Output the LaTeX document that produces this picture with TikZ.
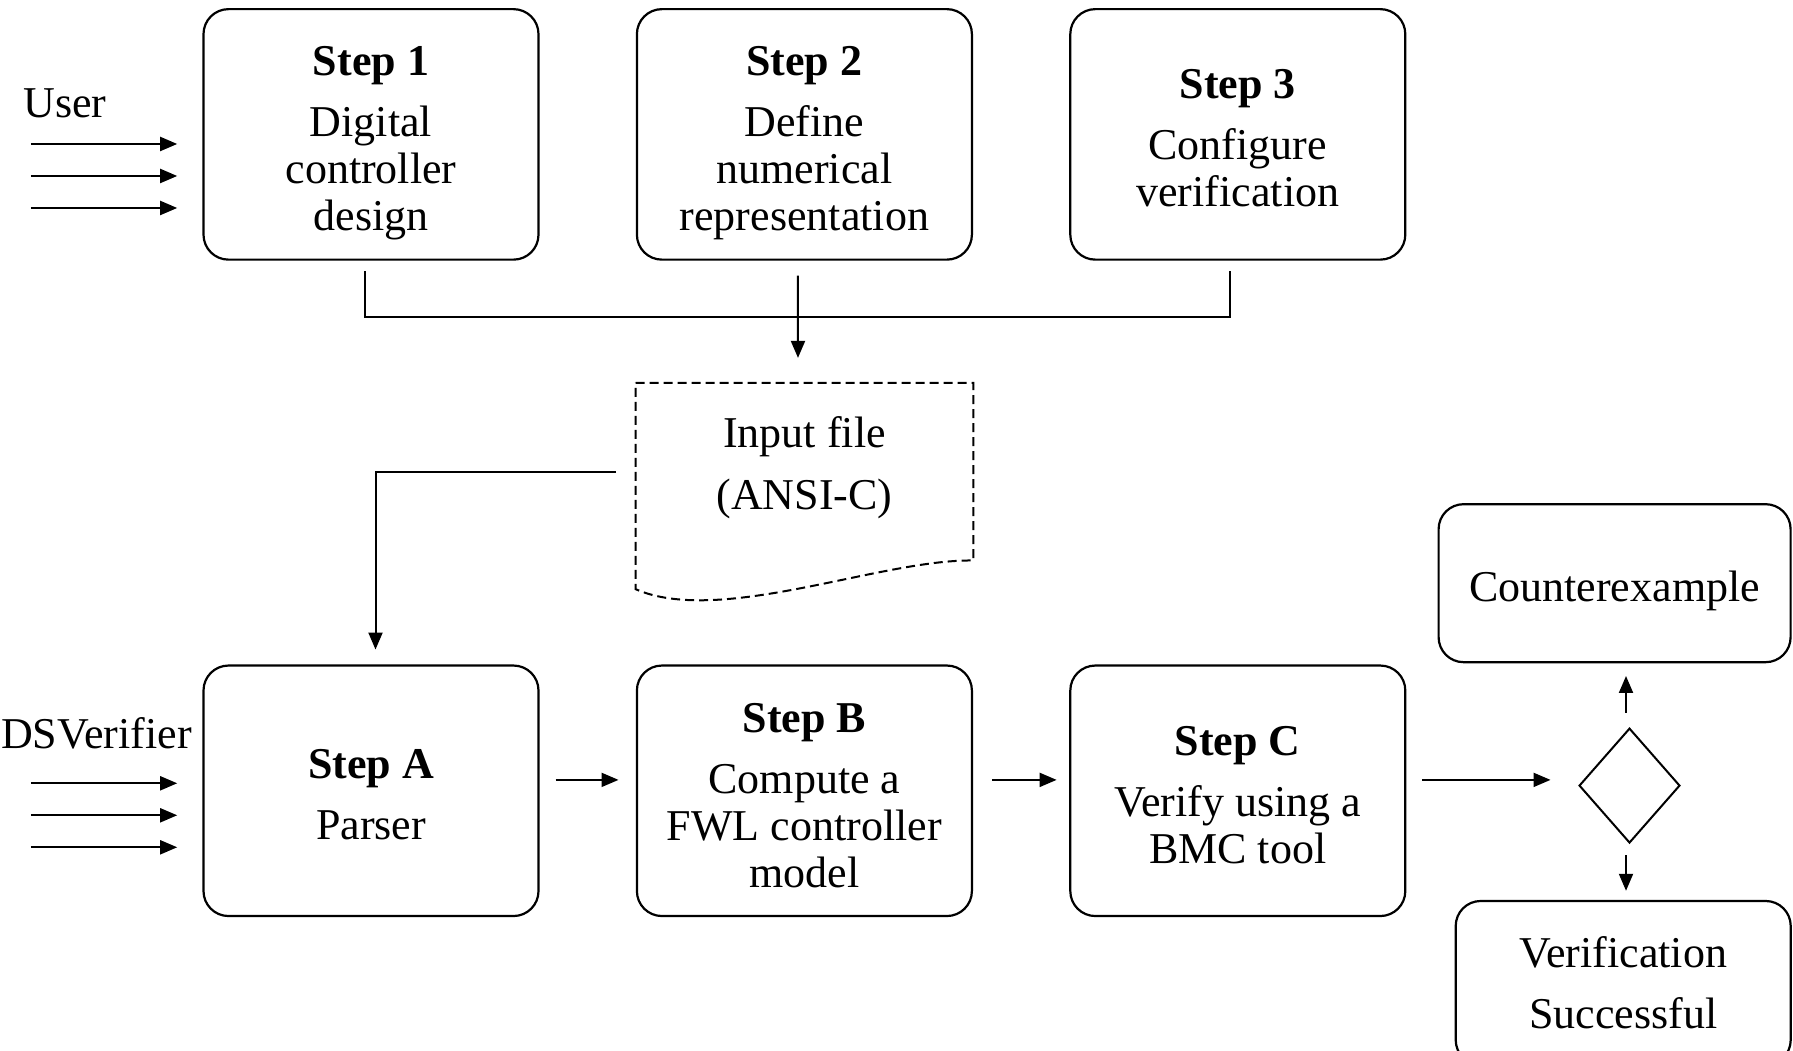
\documentclass[tikz,border=0pt]{standalone}
\usepackage{fontspec}
\setmainfont{Liberation Serif}
\usetikzlibrary{chains,positioning,shapes.geometric,arrows.meta}

% first line of a box, with a strut that sets the text lower
\newcommand{\hd}[2]{\rule{0pt}{#1pt}#2}

\begin{document}
\begin{tikzpicture}[
x=1pt,y=1pt,
every node/.style={
  font=\fontsize{44}{47}\selectfont
},
stepbox/.style={
  draw,
  rounded corners=25pt,
  line width=2.2pt,
  minimum width=335pt,
  minimum height=250.5pt,
  inner sep=0pt,
  outer sep=0pt,
  align=center
},
endbox/.style={
  draw,
  rounded corners=25pt,
  line width=2.2pt,
  inner sep=0pt,
  outer sep=0pt,
  align=center
},
decide/.style={
  draw,
  diamond,
  line width=2pt,
  minimum width=100pt,
  minimum height=114pt,
  inner sep=0pt,
  outer sep=0pt
},
docline/.style={line width=2pt,dash pattern=on 9pt off 5pt},
line/.style={line width=2pt},
arrow/.style={line width=2pt,-{Triangle[length=17pt,width=14pt]}},
start chain=1 going right,node distance=98.4pt
]
\useasboundingbox (0,0) rectangle (1793,1051);

% design steps done by the user
\node[on chain=1,stepbox] at (371,916.6) (s1)
  {\hd{46}{\textbf{Step 1}}\\[14pt]Digital\\controller\\design};
\node[on chain=1,stepbox] (s2)
  {\hd{46}{\textbf{Step 2}}\\[14pt]Define\\numerical\\representation};
\node[on chain=1,stepbox] (s3)
  {\hd{37}{\textbf{Step 3}}\\[14pt]Configure\\verification};

% steps done by the tool
\begin{scope}[start chain=2 going right]
\node[on chain=2,stepbox] at (371,260.2) (sA)
  {\hd{37}{\textbf{Step A}}\\[14pt]Parser};
\node[on chain=2,stepbox] (sB)
  {\hd{39}{\textbf{Step B}}\\[14pt]Compute a\\FWL controller\\model};
\node[on chain=2,stepbox] (sC)
  {\hd{37}{\textbf{Step C}}\\[14pt]Verify using a\\BMC tool};
\end{scope}

\node[minimum width=337.3pt,minimum height=159.8pt,inner sep=0pt,align=center] at (804.5,588) (infile)
  {\hd{41}{Input file}\\[14.8pt](ANSI-C)};
\draw[docline] (infile.north west) -- (infile.north east) -- ([yshift=-17.4pt]infile.south east)
  .. controls ([xshift=-93pt,yshift=-16pt]infile.south east) and ([xshift=84pt,yshift=-83pt]infile.south west)
  .. ([yshift=-46.1pt]infile.south west) -- cycle;

\node[decide] at (1629.5,265.4) (check) {};
\node[endbox,minimum width=352pt,minimum height=158pt] at (1614.6,467.8) (cex)
  {\hd{46}{Counterexample}};
\node[endbox,minimum width=335pt,minimum height=164pt] at (1623.2,68) (ok)
  {Verification\\[13.6pt]Successful};

\node (user) at (65,948) {User};
\node[anchor=west,inner sep=0pt] (dsv) at (1,318) {DSVerifier};

\foreach \dy in {-9.6,-41.6,-73.6}
  \draw[arrow] ([xshift=-172.6pt,yshift=\dy pt]s1.west) -- ([xshift=-26.3pt,yshift=\dy pt]s1.west);
\foreach \dy in {7.5,-24.5,-56.5}
  \draw[arrow] ([xshift=-172.6pt,yshift=\dy pt]sA.west) -- ([xshift=-26.3pt,yshift=\dy pt]sA.west);

\draw[line] ([xshift=-6.5pt,yshift=-11.4pt]s1.south) |- ([xshift=-7.5pt,yshift=-57.1pt]s3.south)
  -- ([xshift=-7.5pt,yshift=-11.4pt]s3.south);
\draw[arrow] ([xshift=-6.5pt,yshift=-16pt]s2.south) -- ([xshift=-6.5pt,yshift=25pt]infile.north);
\draw[arrow] ([xshift=-19.5pt,yshift=-9.3pt]infile.west) -| ([xshift=4.5pt,yshift=16pt]sA.north);

\draw[arrow] ([xshift=17pt,yshift=10.9pt]sA.east) -- ([xshift=-18.4pt,yshift=10.9pt]sB.west);
\draw[arrow] ([xshift=20.5pt,yshift=10.9pt]sB.east) -- ([xshift=-13.7pt,yshift=10.9pt]sC.west);
\draw[arrow] ([xshift=17pt,yshift=10.9pt]sC.east) -- ([xshift=-29pt,yshift=5.7pt]check.west);
\draw[arrow] ([xshift=-3.5pt,yshift=16pt]check.north) -- ++(0,36.6);
\draw[arrow] ([xshift=-3.5pt,yshift=-12.7pt]check.south) -- ++(0,-35.5);
\end{tikzpicture}
\end{document}
